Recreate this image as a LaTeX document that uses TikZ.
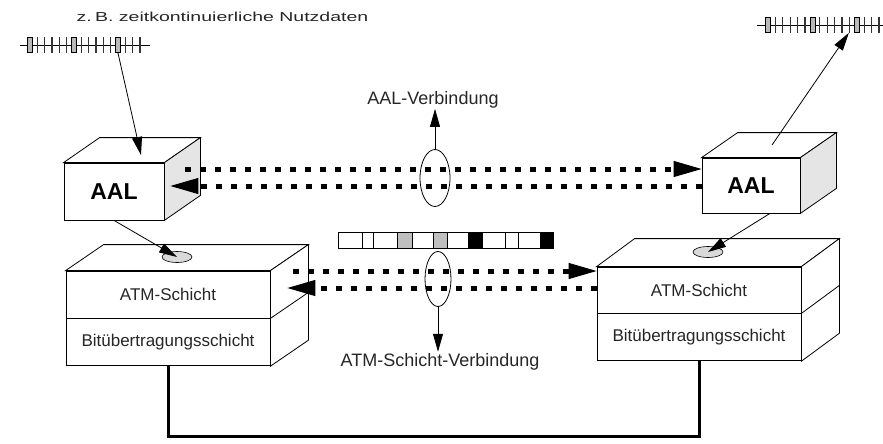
\documentclass[tikz,border=0pt]{standalone}
\usepackage{fontspec}
\setmainfont{Liberation Sans}
\usetikzlibrary{arrows.meta,shapes.geometric,positioning}
\tikzset{
  face/.style={draw, fill=white, line width=.8pt, inner sep=0pt},
  layer/.style={font=\fontsize{17}{17}\selectfont, text=black!85},
  dotline/.style={line width=5pt, dash pattern=on 6pt off 9pt},
  bigtip/.style={-{Triangle[length=28pt,width=16pt,line width=1pt]}},
  thintip/.style={line width=.8pt, -{Triangle[length=18pt,width=10pt]}},
  sap/.style={draw, ellipse, fill=gray!30, line width=.6pt, minimum width=30pt, minimum height=11pt, inner sep=0pt},
  conn/.style={draw, ellipse, line width=.8pt, inner sep=0pt},
  bitbox/.style={draw, fill=gray!55, line width=.8pt, minimum width=5pt, minimum height=15pt, inner sep=0pt},
  label/.style={font=\fontsize{18}{18}\selectfont, text=black!85, inner sep=1pt}
}
\begin{document}
\begin{tikzpicture}[x=1pt,y=-1pt]
\useasboundingbox (0,0) rectangle (883,444);
% bit streams
\draw[line width=.9pt] (20,45) -- (150,45);
\foreach \i in {0,...,15}
\draw[line width=1.2pt, black!80] ({30+7.33*\i},37) -- ({30+7.33*\i},53);
\foreach \i in {0,6,12}
\node[bitbox] (bL\i) at ({30+7.33*\i},45) {};
\draw[line width=.9pt] (757,25) -- (883,25);
\foreach \i in {0,...,15}
\draw[line width=1.2pt, black!80] ({768+7.4*\i},17) -- ({768+7.4*\i},33);
\foreach \i in {0,6,12}
\node[bitbox] (bR\i) at ({768+7.4*\i},25) {};
\node[font=\fontsize{13}{13}\selectfont, text=black!85, xscale=1.5] (note) at (222.5,17) {z.\,B. zeitkontinuierliche Nutzdaten};
% AAL boxes
\node[face, minimum width=100pt, minimum height=57pt, font=\fontsize{23}{23}\selectfont\bfseries] (aalL) at (114,191.5) {AAL};
\node[face, minimum width=98pt, minimum height=55pt, font=\fontsize{23}{23}\selectfont\bfseries] (aalR) at (751,185.5) {AAL};
\foreach \f/\d in {aalL/36, aalR/36} {
\draw[line width=.8pt, fill=white] (\f.north west) -- ([shift={(\d,-25)}]\f.north west) -- ([shift={(\d,-25)}]\f.north east) -- (\f.north east) -- cycle;
\draw[line width=.8pt, fill=gray!20] (\f.north east) -- ([shift={(\d,-25)}]\f.north east) -- ([shift={(\d,-25)}]\f.south east) -- (\f.south east) -- cycle;
}
% ATM and physical layer boxes
\node[face, layer, minimum width=204pt, minimum height=47pt] (atmL) at (168,294.5) {ATM-Schicht};
\node[face, layer, minimum width=204pt, minimum height=47pt, below=0pt of atmL] (phyL) {Bitübertragungsschicht};
\node[face, layer, minimum width=204pt, minimum height=46pt] (atmR) at (699,290) {ATM-Schicht};
\node[face, layer, minimum width=204pt, minimum height=47pt, below=0pt of atmR] (phyR) {Bitübertragungsschicht};
\foreach \a/\p/\dy in {atmL/phyL/-26, atmR/phyR/-28} {
\draw[line width=.8pt, fill=white] (\a.north west) -- ([shift={(38,\dy)}]\a.north west) -- ([shift={(38,\dy)}]\a.north east) -- (\a.north east) -- cycle;
\draw[line width=.8pt, fill=white] (\a.north east) -- ([shift={(38,\dy)}]\a.north east) -- ([shift={(38,\dy)}]\p.south east) -- (\p.south east) -- cycle;
\draw[line width=.8pt] (\a.south east) -- ([shift={(38,\dy)}]\a.south east);
}
\node[sap] (sapL) at (177,257) {};
\node[sap] (sapR) at (708,252) {};
% data flow
\coordinate (inL) at (141,155);
\coordinate (outR) at (772,145);
\draw[thintip] (bL12.south) -- (inL);
\draw[thintip] (outR) -- ([xshift=-8pt]bR12.south);
\draw[thintip] (aalL.south) -- (sapL.center);
\draw[thintip] ([xshift=19pt]aalR.south) -- (sapR.center);
% cell stream
\foreach \a/\b/\c in {338/362/white, 362/373/white, 373/397/white, 397/412/gray!50, 412/433/white, 433/447/gray!50, 447/468/white, 468/482/black, 482/505/white, 505/518/white, 518/540/white, 540/553/black}
\draw[line width=.7pt, fill=\c] (\a,232) rectangle (\b,248);
% connections
\draw[dotline, bigtip] ([shift={(21,-22.5)}]aalL.east) -- ([shift={(0,-16.5)}]aalR.west);
\draw[dotline, bigtip] ([shift={(0,0.5)}]aalR.west) -- ([shift={(6,-5.5)}]aalL.east);
\draw[dotline, bigtip] ([shift={(23,-23.5)}]atmL.east) -- ([shift={(0,-19)}]atmR.west);
\draw[dotline, bigtip] ([shift={(0,-2)}]atmR.west) -- ([shift={(17,-6.5)}]atmL.east);
\node[conn, minimum width=30pt, minimum height=57pt] (aalC) at (435,178) {};
\node[conn, minimum width=26pt, minimum height=55pt] (atmC) at (438,279) {};
\node[label, anchor=base] (aalLbl) at (433,104) {AAL-Verbindung};
\node[label, anchor=base] (atmLbl) at (440,366) {ATM-Schicht-Verbindung};
\draw[thintip] (aalC.north) -- (aalC.north |- aalLbl.south);
\draw[thintip] (atmC.south) -- (atmC.south |- atmLbl.north);
% physical medium
\draw[line width=3pt] (phyL.south) -- ++(0,70) -| (phyR.south);
\end{tikzpicture}
\end{document}
